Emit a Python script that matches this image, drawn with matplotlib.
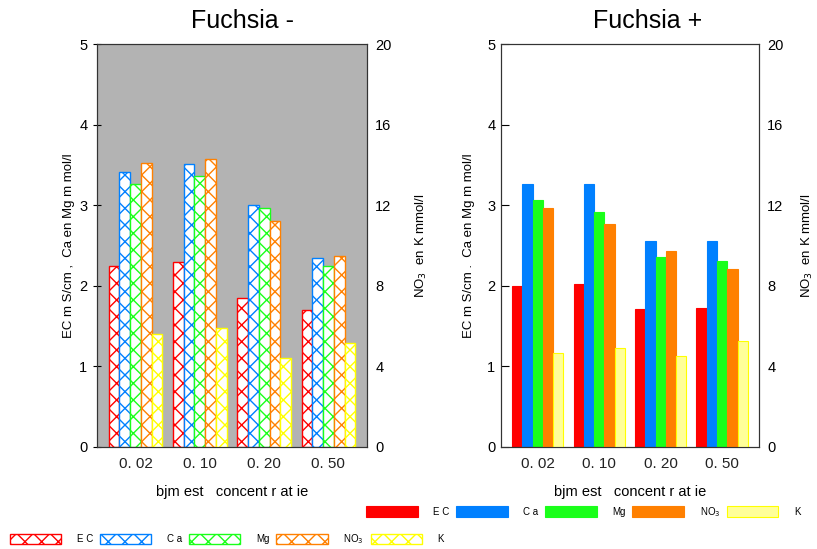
import matplotlib.pyplot as plt
import numpy as np

plt.rcParams['font.family'] = ['Liberation Sans', 'DejaVu Sans']
plt.rcParams['hatch.linewidth'] = 1.0

concentraties = ["0. 02", "0. 10", "0. 20", "0. 50"]
series = ["EC", "Ca", "Mg", "NO3", "K"]
legend_labels = ["E C", "C a", "Mg", "NO$_3$", "K"]

# left axis: EC mS/cm, Ca and Mg mmol/l ; right axis: NO3 and K mmol/l
ec_min = [2.25, 2.30, 1.85, 1.70]
ca_min = [3.41, 3.51, 3.00, 2.35]
mg_min = [3.26, 3.36, 2.96, 2.25]
no3_min = [14.1, 14.3, 11.2, 9.5]
k_min = [5.6, 5.9, 4.4, 5.15]

ec_plus = [2.00, 2.02, 1.71, 1.73]
ca_plus = [3.26, 3.26, 2.56, 2.56]
mg_plus = [3.06, 2.91, 2.36, 2.31]
no3_plus = [11.85, 11.05, 9.75, 8.83]
k_plus = [4.66, 4.9, 4.5, 5.26]

colors = ["#ff0000", "#0080ff", "#1aff1a", "#ff8000", "#ffff00"]
k_fill = "#ffff99"


def panel(ax, left_vals, right_vals, hatched, ylab, lpad, rpad):
    x = np.arange(len(concentraties))
    w = 0.167
    ax2 = ax.twinx()
    handles = []
    for i in range(5):
        if i < 3:
            a, vals = ax, left_vals[i]
        else:
            a, vals = ax2, right_vals[i - 3]
        pos = x + (i - 2) * w
        if hatched:
            b = a.bar(pos, vals, w, color="white", edgecolor=colors[i],
                      hatch="xx", linewidth=1.0)
        else:
            fc = k_fill if i == 4 else colors[i]
            b = a.bar(pos, vals, w, color=fc, edgecolor=colors[i], linewidth=0.8)
        handles.append(b)
    ax.set_xlim(-0.6, 3.6)
    ax.set_ylim(0, 5)
    ax2.set_ylim(0, 20)
    ax.set_yticks([0, 1, 2, 3, 4, 5])
    ax2.set_yticks([0, 4, 8, 12, 16, 20])
    ax.set_xticks(x)
    ax.set_xticklabels(concentraties, fontsize=11, color="#222222")
    ax.tick_params(axis="x", length=0, pad=7)
    ax.tick_params(axis="y", direction="inout" if hatched else "in",
                   length=6, labelsize=10.5, pad=4)
    ax2.tick_params(axis="y", length=0, pad=6, labelsize=10.5)
    ax.set_ylabel(ylab, fontsize=9.5, labelpad=lpad)
    ax2.set_ylabel("NO$_3$  en K mmol/l", fontsize=9.5, labelpad=rpad)
    ax.set_xlabel("bjm est   concent r at ie", fontsize=10.5, labelpad=10)
    for a in (ax, ax2):
        for s in a.spines.values():
            s.set_linewidth(0.8)
            s.set_color("#333333")
    return handles


def main():
    fig = plt.figure(figsize=(8.17, 5.49), dpi=100)
    ax_l = fig.add_axes([0.1187, 0.1858, 0.3305, 0.734])
    ax_r = fig.add_axes([0.6132, 0.1858, 0.3158, 0.734])
    ax_l.set_facecolor("#b3b3b3")

    h_l = panel(ax_l, [ec_min, ca_min, mg_min], [no3_min, k_min], True,
                "EC m S/cm ,  Ca en Mg m mol/l", 3, 16)
    h_r = panel(ax_r, [ec_plus, ca_plus, mg_plus], [no3_plus, k_plus], False,
                "EC m S/cm .  Ca en Mg m mol/l", 9, 12)

    fig.text(0.297, 0.962, "Fuchsia -", fontsize=18, ha="center", va="center")
    fig.text(0.793, 0.962, "Fuchsia +", fontsize=18, ha="center", va="center")

    kw = dict(ncol=5, frameon=False, fontsize=7, handlelength=5.3, handleheight=1.35,
              handletextpad=1.6, columnspacing=0.7, borderpad=0, borderaxespad=0,
              loc="center left")
    fig.legend(h_r, legend_labels, bbox_to_anchor=(0.448, 0.068), **kw)
    fig.legend(h_l, legend_labels, bbox_to_anchor=(0.012, 0.018), **kw)

    fig.savefig("out.png", dpi=100)


if __name__ == '__main__':
    main()
